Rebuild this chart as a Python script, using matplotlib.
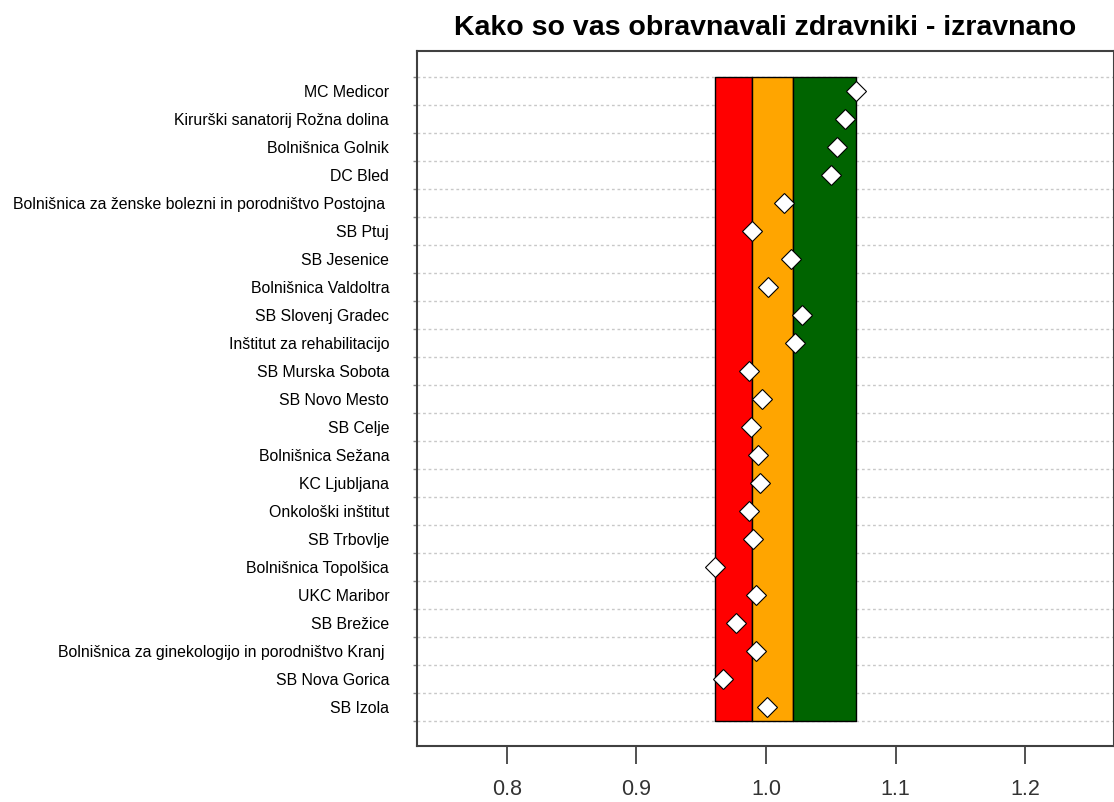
import numpy as np
import matplotlib.pyplot as plt

plt.rcParams['font.family'] = ['Liberation Sans', 'DejaVu Sans']

# hospitals top to bottom
hospitals = [
    "MC Medicor",
    "Kirurški sanatorij Rožna dolina",
    "Bolnišnica Golnik",
    "DC Bled",
    "Bolnišnica za ženske bolezni in porodništvo Postojna ",
    "SB Ptuj",
    "SB Jesenice",
    "Bolnišnica Valdoltra",
    "SB Slovenj Gradec",
    "Inštitut za rehabilitacijo",
    "SB Murska Sobota",
    "SB Novo Mesto",
    "SB Celje",
    "Bolnišnica Sežana",
    "KC Ljubljana",
    "Onkološki inštitut",
    "SB Trbovlje",
    "Bolnišnica Topolšica",
    "UKC Maribor",
    "SB Brežice",
    "Bolnišnica za ginekologijo in porodništvo Kranj ",
    "SB Nova Gorica",
    "SB Izola",
]
scores = [1.0697, 1.0607, 1.0548, 1.0504, 1.0137, 0.9893, 1.0196, 1.0013,
          1.0275, 1.0224, 0.9871, 0.9970, 0.9888, 0.9939, 0.9950, 0.9871,
          0.9902, 0.9607, 0.9926, 0.9767, 0.9926, 0.9666, 1.0007]

# colour bands: red / orange / green
band_edges = [0.9609, 0.9893, 1.0209, 1.0697]
band_colors = ['#FF0000', '#FFA500', '#006400']

W, H = 1114, 802
fig = plt.figure(figsize=(W / 100, H / 100), dpi=100)
ax = fig.add_axes([416.7 / W, 1 - 746 / H, (1113.5 - 416.7) / W, (746 - 51) / H])

n = len(hospitals)
y = np.arange(n)

# dotted row separators
for b in np.arange(n + 1) - 0.5:
    ax.axhline(b, color='#c8c8c8', lw=1, ls=(0, (2, 2)), zorder=1)

for i in range(3):
    ax.fill_betweenx([-0.5, n - 0.5], band_edges[i], band_edges[i + 1],
                     facecolor=band_colors[i], edgecolor='black', lw=1, zorder=2)

ax.plot(scores, y, 'D', ms=10.5, mfc='white', mec='black', mew=0.8, zorder=3,
        clip_on=False)

ax.set_xlim(0.7306, 1.268)
ax.set_ylim(n - 0.5 + 0.9, -0.5 - 0.92)

ax.set_xticks([0.8, 0.9, 1.0, 1.1, 1.2])
ax.set_xticklabels(['0.8', '0.9', '1.0', '1.1', '1.2'])
ax.tick_params(axis='x', length=13, width=1.2, color='#333333', labelsize=15.5,
               labelcolor='#333333', pad=11)

ax.set_yticks(np.arange(n + 1) - 0.5, minor=False)
ax.set_yticklabels([])
ax.tick_params(axis='y', length=3, width=1, color='#888888')
for yi, name in zip(y, hospitals):
    ax.text(-27.5 / (1113.5 - 416.7), yi + 0.06, name,
            transform=ax.get_yaxis_transform(),
            ha='right', va='center', fontsize=11.4, color='black')

for s in ax.spines.values():
    s.set_color('#404040')
    s.set_linewidth(1.5)

fig.text(765 / W, 1 - 28 / H, 'Kako so vas obravnavali zdravniki - izravnano',
         ha='center', va='center', fontsize=20.5, fontweight='bold')

fig.savefig('out.png', dpi=100)
